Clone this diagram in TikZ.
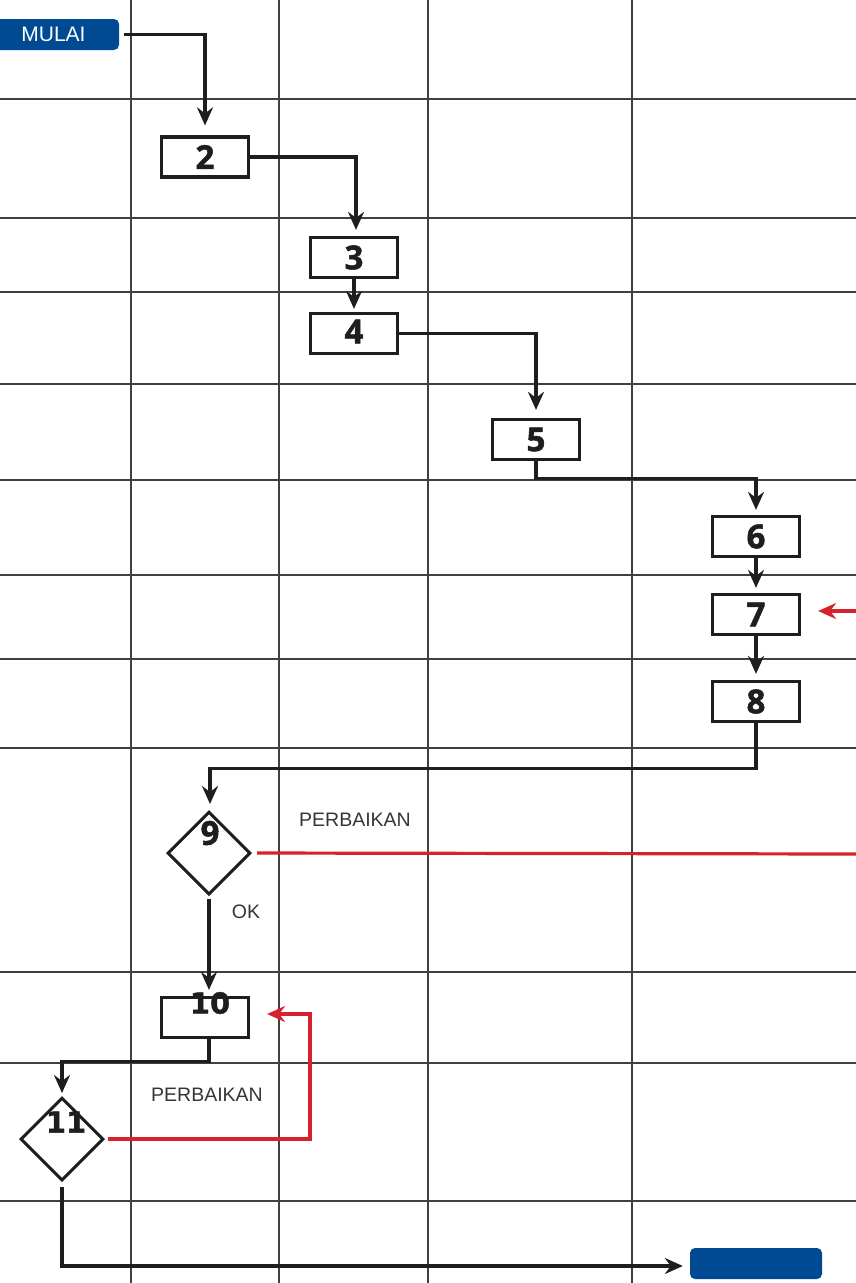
\documentclass[tikz,border=0pt]{standalone}
\usepackage{fontspec}
\setmainfont{Liberation Sans}
\newfontfamily\digitfont{Open Sans}[BoldFeatures={FakeBold=1.6}]
\newfontfamily\wdigitfont{DejaVu Sans}[BoldFeatures={FakeBold=1.2}]
\usetikzlibrary{arrows.meta,shapes.geometric,calc}
\definecolor{gridgray}{HTML}{404040}
\definecolor{inkblack}{HTML}{1E1E1E}
\definecolor{flowred}{HTML}{D6222D}
\definecolor{flowblue}{HTML}{004A94}
\tikzset{
  gridline/.style={draw=gridgray,line width=1.5pt},
  stepbox/.style={draw=inkblack,line width=3.2pt,rectangle,minimum width=87pt,minimum height=40pt,inner sep=0pt,
    font=\digitfont\bfseries\fontsize{33}{33}\selectfont,text=inkblack},
  decision/.style={draw=inkblack,line width=3pt,diamond,minimum width=83pt,minimum height=83pt,inner sep=0pt},
  digit/.style={font=\digitfont\bfseries\fontsize{33}{33}\selectfont,text=inkblack,inner sep=0pt},
  wdigit/.style={font=\wdigitfont\bfseries\fontsize{29}{29}\selectfont,text=inkblack,inner sep=0pt},
  terminal/.style={fill=flowblue,rounded corners=5pt,inner sep=0pt},
  flow/.style={draw=inkblack,line width=3.2pt,-{Stealth[length=18pt,width=16pt,inset=6pt]}},
  redflow/.style={draw=flowred,line width=3.2pt,-{Stealth[length=18pt,width=16pt,inset=6pt]}},
  redline/.style={draw=flowred,line width=3.2pt},
  caption/.style={font=\fontsize{19.5}{20}\selectfont,text=inkblack!90,inner sep=0pt},
}
\begin{document}
\begin{tikzpicture}[x=1pt,y=-1pt]
\useasboundingbox (0,0) rectangle (856,1283);
\clip (0,0) rectangle (856,1283);

% lane grid
\foreach \gx in {131,279,428,632}
  \draw[gridline] (\gx,0) -- (\gx,1283);
\foreach \gy in {99,218,292,384,480,575,659,748,972,1063,1201}
  \draw[gridline] (0,\gy) -- (856,\gy);

% terminals
\node[terminal,minimum width=131pt,minimum height=31pt,font=\fontsize{21}{21}\selectfont,text=white]
  (mulai) at (53.5,34.5) {MULAI};
\node[terminal,minimum width=132pt,minimum height=31pt] (selesai) at (756,1263.5) {};

% process steps
\node[stepbox] (n2) at (205,157) {2};
\node[stepbox] (n3) at (354,257.5) {3};
\node[stepbox,text depth=4pt] (n4) at (354,333.5) {4};
\node[stepbox] (n5) at (536,439.5) {5};
\node[stepbox] (n6) at (756,536.5) {6};
\node[stepbox] (n7) at (756,614.5) {7};
\node[stepbox] (n8) at (756,701.5) {8};
\node[stepbox] (n10) at (205,1017.5) {};
\node[wdigit] (t10) at (210,1003) {10};

% checks
\node[decision] (d9) at (209,853) {};
\node[digit] (t9) at (210,833) {9};
\node[decision] (d11) at (62,1139) {};
\node[wdigit] (t11) at (66,1122) {11};

% captions
\node[caption] (lp1) at (355,820) {PERBAIKAN};
\node[caption] (lok) at (246,912) {OK};
\node[caption] (lp2) at (207,1095) {PERBAIKAN};

% main flow
\draw[flow,shorten <=5pt,shorten >=10pt] (mulai.east) -| (n2.north);
\draw[flow,shorten >=6pt] (n2.east) -| ([xshift=2pt]n3.north);
\draw[flow,shorten >=3pt] (n3.south) -- (n4.north);
\draw[flow,shorten >=8pt] (n4.east) -| (n5.north);
\draw[flow,shorten >=5pt] (n5.south) -- ++(0,17) -| (n6.north);
\draw[flow,shorten >=5pt] (n6.south) -- (n7.north);
\draw[flow,shorten >=6pt] (n7.south) -- (n8.north);
\draw[flow,shorten >=6pt] (n8.south) -- ++(0,45) -| ([xshift=1pt]d9.north);
\draw[flow,shorten <=3pt,shorten >=6pt] (d9.south) -- (d9.south |- n10.north);
\draw[flow,shorten >=3pt] ([xshift=4pt]n10.south) -- ++(0,22) -| (d11.north);
\draw[flow,shorten <=5pt,shorten >=7pt] (d11.south) |- ([yshift=-2.5pt]selesai.west);

% rework loops
\coordinate (in7) at (856,611);
\draw[redflow,shorten >=17pt] (in7) -- (in7 -| n7.east);
\coordinate (out9) at (856,854);
\draw[redline,shorten <=5pt] (d9.east) -- (out9);
\coordinate (r10) at (310,1014);
\draw[redflow,shorten <=3pt,shorten >=17pt] (d11.east) -| (r10) -- (r10 -| n10.east);
\end{tikzpicture}
\end{document}
